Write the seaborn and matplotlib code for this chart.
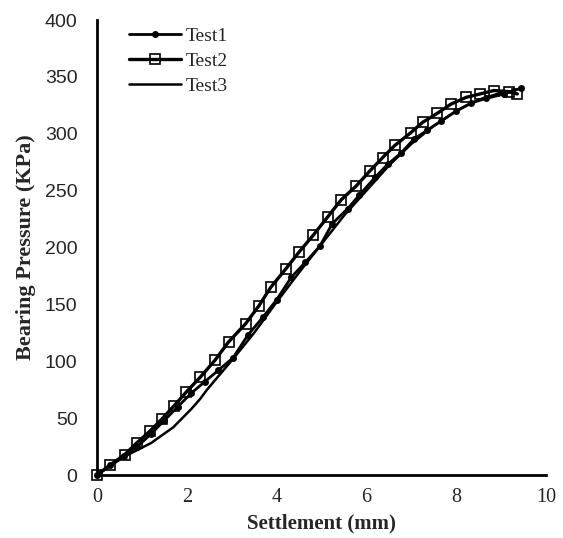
import pandas as pd
import seaborn as sns
import matplotlib.pyplot as plt

# settlement (mm) / bearing pressure (kPa)
test1_x = [0, 0.3, 0.6, 0.9, 1.2, 1.5, 1.8, 2.1, 2.4, 2.7, 3.03, 3.36, 3.7, 4.0, 4.33, 4.64,
           4.96, 5.24, 5.58, 5.84, 6.2, 6.47, 6.77, 7.05, 7.35, 7.66, 8.0, 8.33, 8.66, 9.07, 9.44]
test1_y = [0, 9, 17, 25, 36, 48, 60, 72, 82, 92, 103, 123, 139, 154, 174, 187,
           201, 221, 234, 246, 262, 273, 283, 295, 303, 311, 320, 327, 331, 335, 340]

test2_x = [0, 0.30, 0.62, 0.88, 1.19, 1.44, 1.72, 1.99, 2.30, 2.63, 2.93, 3.31, 3.61, 3.87,
           4.2, 4.50, 4.82, 5.14, 5.44, 5.77, 6.07, 6.36, 6.64, 6.99, 7.25, 7.58, 7.88,
           8.22, 8.53, 8.84, 9.18, 9.36]
test2_y = [0, 9, 18, 28, 39, 49, 61, 73, 86, 101, 117, 133, 149, 165,
           181, 196, 211, 227, 242, 254, 267, 279, 290, 301, 310, 318, 326,
           332, 335, 338, 337, 335]

test3_x = [0, 0.3, 0.6, 0.9, 1.2, 1.45, 1.7, 1.9, 2.1, 2.3, 2.45, 2.75, 3.05, 3.5, 4.0,
           4.5, 5.0, 5.5, 6.0, 6.5, 7.0, 7.5, 8.0, 8.5, 9.0, 9.3]
test3_y = [0, 8, 16, 22, 28, 35, 42, 50, 58, 67, 75, 89, 103, 125, 152,
           178, 203, 228, 250, 272, 291, 307, 320, 330, 336, 337]

t1 = pd.DataFrame({'settlement': test1_x, 'pressure': test1_y})
t2 = pd.DataFrame({'settlement': test2_x, 'pressure': test2_y})
t3 = pd.DataFrame({'settlement': test3_x, 'pressure': test3_y})

sns.set_style("white")
plt.rcParams['font.family'] = ['Liberation Serif', 'DejaVu Serif']

fig = plt.figure(figsize=(5.63, 5.38), dpi=100)
ax = fig.add_axes([0.1723, 0.1171, 0.7975, 0.8457])

sns.lineplot(data=t1, x='settlement', y='pressure', ax=ax, color='black', lw=2,
             marker='o', markersize=5, markeredgewidth=0, label='Test1', sort=False,
             clip_on=False, zorder=4)
sns.lineplot(data=t2, x='settlement', y='pressure', ax=ax, color='black', lw=2.4,
             marker='s', markersize=7, markerfacecolor='none', markeredgecolor='black',
             markeredgewidth=1.2, label='Test2', sort=False, clip_on=False, zorder=4)
sns.lineplot(data=t3, x='settlement', y='pressure', ax=ax, color='black', lw=1.8,
             label='Test3', sort=False)

ax.set_xlim(0, 10)
ax.set_ylim(0, 400)
ax.set_xticks([0, 2, 4, 6, 8, 10])
ax.set_yticks(range(0, 401, 50))
ax.set_xlabel('Settlement (mm)', fontsize=15, fontweight='bold', labelpad=5)
ax.set_ylabel('Bearing Pressure (KPa)', fontsize=16, fontweight='bold', labelpad=6)

for lbl in ax.get_xticklabels():
    lbl.set_fontsize(14.5)
for lbl in ax.get_yticklabels():
    lbl.set_fontfamily('Liberation Sans')
    lbl.set_fontsize(14)

ax.tick_params(direction='inout', length=10, width=1.5, color='black', pad=4)
ax.tick_params(axis='y', pad=9)
sns.despine(ax=ax)
for side in ['left', 'bottom']:
    ax.spines[side].set_linewidth(2)
    ax.spines[side].set_color('black')

leg = ax.legend(loc='upper left', bbox_to_anchor=(0.045, 1.01), frameon=False,
                fontsize=14, handlelength=2.7, handletextpad=0.2, labelspacing=0.38,
                borderaxespad=0.2)

fig.savefig('out.png', dpi=100)
